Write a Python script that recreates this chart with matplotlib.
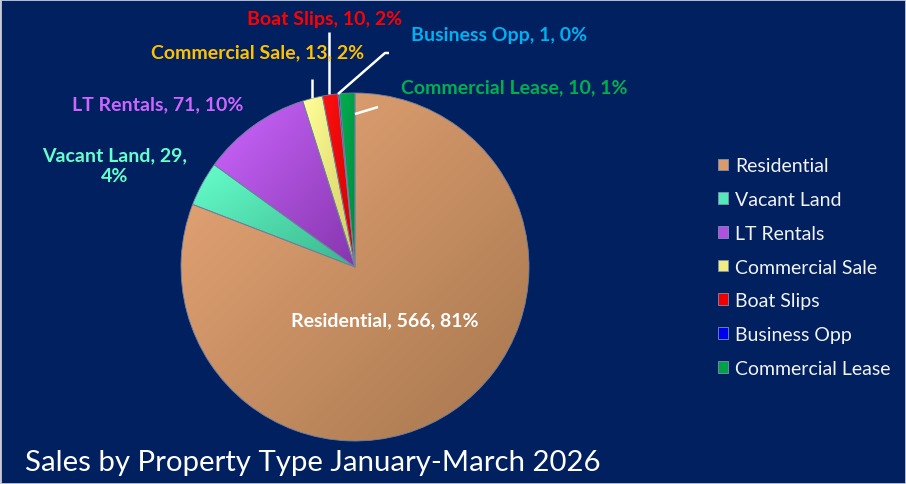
import matplotlib
matplotlib.use('agg')
import matplotlib.pyplot as plt
import numpy as np
from matplotlib.colors import LinearSegmentedColormap
from matplotlib.patches import Patch

plt.rcParams['font.family'] = ['Lato', 'DejaVu Sans']

# data
categories = ['Residential', 'Vacant Land', 'LT Rentals', 'Commercial Sale',
              'Boat Slips', 'Business Opp', 'Commercial Lease']
counts = [566, 29, 71, 13, 10, 1, 10]
pct_labels = ['81%', '4%', '10%', '2%', '2%', '0%', '1%']

light = ['#EAA878', '#66FFCC', '#CC66FF', '#FFFF99', '#FF1010', '#0000FF', '#00B050']
dark = ['#A6764E', '#3AB58C', '#8636AE', '#D2CA60', '#D00000', '#0000C8', '#008A3C']
legend_col = ['#D99A6C', '#55E8B8', '#B050E0', '#F0EC80', '#F00000', '#0000F0', '#00A048']
text_col = ['white', '#66FFCC', '#CC66FF', '#FFC000', '#FF0000', '#00B0F0', '#00B050']

bg = '#002060'
W, H = 906, 485
cx, cy, r = 355, 268, 174

fig = plt.figure(figsize=(W / 100, H / 100), dpi=100, facecolor=bg)
ax = fig.add_axes([(cx - r) / W, (H - cy - r) / H, 2 * r / W, 2 * r / H])
ax.set_facecolor(bg)

wedges, _ = ax.pie(counts, startangle=90, counterclock=False, radius=1,
                   wedgeprops=dict(edgecolor='#7080A0', linewidth=0.6))
ax.axis('off')

# diagonal gradient inside each wedge: light upper-left, dark lower-right
gx, gy = np.meshgrid(np.linspace(0, 1, 200), np.linspace(0, 1, 200))
grad = (gx + gy) / 2
for w, lc, dc in zip(wedges, light, dark):
    w.set_facecolor('none')
    bb = w.get_path().get_extents(w.get_patch_transform())
    cmap = LinearSegmentedColormap.from_list('g', [lc, dc])
    im = ax.imshow(grad, cmap=cmap, extent=[bb.x0, bb.x1, bb.y0, bb.y1],
                   origin='upper', interpolation='bilinear', zorder=0.5, aspect='auto')
    im.set_clip_path(w)
ax.set_xlim(-1, 1)
ax.set_ylim(-1, 1)


def px(x, y):
    return ((x - cx) / r, (cy - y) / r)


labels = [f'{c}, {n}, {p}' for c, n, p in zip(categories, counts, pct_labels)]
labels[1] = f'{categories[1]}, {counts[1]},\n{pct_labels[1]}'
label_pos = [(385, 321), (115, 166), (158, 105), (258, 53), (325, 20), (499, 35), (514, 88)]
for lab, pos, col in zip(labels, label_pos, text_col):
    x, y = px(*pos)
    ax.text(x, y, lab, color=col, fontsize=14, fontweight='bold',
            ha='center', va='center', linespacing=1.25, zorder=5)

# leader lines
leaders = [
    [(312, 80), (312, 99)],
    [(329, 33), (329, 95)],
    [(338, 95), (385, 54), (389, 54)],
    [(355, 115), (378, 108)],
]
for seg in leaders:
    pts = np.array([px(*p) for p in seg])
    ax.plot(pts[:, 0], pts[:, 1], color='white', lw=1.8, clip_on=False, zorder=4,
            solid_capstyle='butt')

handles = [Patch(facecolor=c, edgecolor='#8090B0', linewidth=0.6) for c in legend_col]
fig.legend(handles, categories, loc='center left', bbox_to_anchor=(700 / W, (H - 268) / H),
           frameon=False, fontsize=14, labelcolor='#F2F2F2', handlelength=0.55,
           handleheight=0.55, handletextpad=0.35, labelspacing=0.86)

fig.text(25 / W, (H - 463) / H, 'Sales by Property Type January-March 2026',
         color='white', fontsize=21.2, ha='left', va='center')

# light outer border
fig.add_artist(plt.Rectangle((0, 0), 1, 1, transform=fig.transFigure, fill=False,
                             edgecolor='#C8CCD8', linewidth=2))

fig.savefig('out.png', dpi=100, facecolor=bg)
